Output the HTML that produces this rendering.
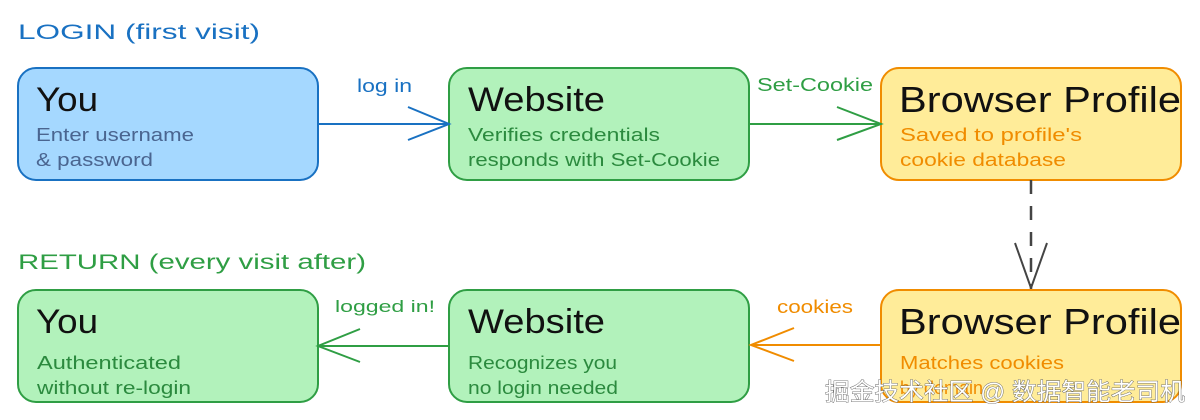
<!DOCTYPE html>
<html><head><meta charset="utf-8"><style>
html,body{margin:0;padding:0;background:#fff;}
svg{display:block;}
text{font-family:"Liberation Sans","Noto Sans CJK SC",sans-serif;}
</style></head><body>
<svg width="1200" height="420" viewBox="0 0 1200 420" xmlns="http://www.w3.org/2000/svg">
<text x="18" y="39" font-size="21" fill="#1971c2" textLength="242" lengthAdjust="spacingAndGlyphs">LOGIN  (first visit)</text>
<text x="18" y="269" font-size="21" fill="#2f9e44" textLength="348" lengthAdjust="spacingAndGlyphs">RETURN  (every visit after)</text>

<rect x="18" y="68" width="300" height="112" rx="18" fill="#a5d8ff" stroke="#1971c2" stroke-width="2"/>
<text x="36" y="111" font-size="34" fill="#111" textLength="62" lengthAdjust="spacingAndGlyphs">You</text>
<text x="36" y="141" font-size="18" fill="#4a6590" textLength="158" lengthAdjust="spacingAndGlyphs">Enter username</text>
<text x="36" y="166" font-size="18" fill="#4a6590" textLength="117" lengthAdjust="spacingAndGlyphs">&amp; password</text>

<rect x="449" y="68" width="300" height="112" rx="18" fill="#b2f2bb" stroke="#2f9e44" stroke-width="2"/>
<text x="468" y="111" font-size="34" fill="#111" textLength="137" lengthAdjust="spacingAndGlyphs">Website</text>
<text x="468" y="141" font-size="18" fill="#2b8a3e" textLength="192" lengthAdjust="spacingAndGlyphs">Verifies credentials</text>
<text x="468" y="166" font-size="18" fill="#2b8a3e" textLength="252" lengthAdjust="spacingAndGlyphs">responds with Set-Cookie</text>

<rect x="881" y="68" width="300" height="112" rx="18" fill="#ffec99" stroke="#f08c00" stroke-width="2"/>
<text x="899" y="112" font-size="36" fill="#111" textLength="282" lengthAdjust="spacingAndGlyphs">Browser Profile</text>
<text x="900" y="141" font-size="18" fill="#f08c00" textLength="182" lengthAdjust="spacingAndGlyphs">Saved to profile's</text>
<text x="900" y="166" font-size="18" fill="#f08c00" textLength="166" lengthAdjust="spacingAndGlyphs">cookie database</text>

<line x1="318" y1="124" x2="449" y2="124" stroke="#1971c2" stroke-width="2"/>
<polyline points="408,107 449,124 408,140" fill="none" stroke="#1971c2" stroke-width="2"/>
<text x="357" y="92" font-size="18" fill="#1971c2" textLength="55" lengthAdjust="spacingAndGlyphs">log in</text>

<line x1="749" y1="124" x2="881" y2="124" stroke="#2f9e44" stroke-width="2"/>
<polyline points="837,107 881,124 837,140" fill="none" stroke="#2f9e44" stroke-width="2"/>
<text x="757" y="91" font-size="18" fill="#2f9e44" textLength="116" lengthAdjust="spacingAndGlyphs">Set-Cookie</text>

<line x1="1031" y1="180" x2="1031" y2="290" stroke="#444" stroke-width="2.5" stroke-dasharray="14,12"/>
<polyline points="1015,243 1031,288 1047,243" fill="none" stroke="#444" stroke-width="2"/>

<rect x="18" y="290" width="300" height="112" rx="18" fill="#b2f2bb" stroke="#2f9e44" stroke-width="2"/>
<text x="36" y="333" font-size="34" fill="#111" textLength="62" lengthAdjust="spacingAndGlyphs">You</text>
<text x="37" y="369" font-size="18" fill="#2b8a3e" textLength="144" lengthAdjust="spacingAndGlyphs">Authenticated</text>
<text x="37" y="394" font-size="18" fill="#2b8a3e" textLength="154" lengthAdjust="spacingAndGlyphs">without re-login</text>

<rect x="449" y="290" width="300" height="112" rx="18" fill="#b2f2bb" stroke="#2f9e44" stroke-width="2"/>
<text x="468" y="333" font-size="34" fill="#111" textLength="137" lengthAdjust="spacingAndGlyphs">Website</text>
<text x="468" y="369" font-size="18" fill="#2b8a3e" textLength="149" lengthAdjust="spacingAndGlyphs">Recognizes you</text>
<text x="468" y="394" font-size="18" fill="#2b8a3e" textLength="150" lengthAdjust="spacingAndGlyphs">no login needed</text>

<rect x="881" y="290" width="300" height="112" rx="18" fill="#ffec99" stroke="#f08c00" stroke-width="2"/>
<text x="899" y="334" font-size="36" fill="#111" textLength="282" lengthAdjust="spacingAndGlyphs">Browser Profile</text>
<text x="900" y="369" font-size="18" fill="#f08c00" textLength="164" lengthAdjust="spacingAndGlyphs">Matches cookies</text>
<text x="900" y="394" font-size="18" fill="#f08c00">by domain</text>

<line x1="449" y1="346" x2="318" y2="346" stroke="#2f9e44" stroke-width="2"/>
<polyline points="360,329 318,346 360,362" fill="none" stroke="#2f9e44" stroke-width="2"/>
<text x="335" y="312" font-size="17" fill="#2f9e44" textLength="100" lengthAdjust="spacingAndGlyphs">logged in!</text>

<line x1="881" y1="345" x2="751" y2="345" stroke="#f08c00" stroke-width="2"/>
<polyline points="794,328 751,345 794,361" fill="none" stroke="#f08c00" stroke-width="2"/>
<text x="777" y="313" font-size="18" fill="#f08c00" textLength="76" lengthAdjust="spacingAndGlyphs">cookies</text>

<text x="825" y="400" font-size="24" fill="#ffffff" stroke="#555" stroke-width="0.8" paint-order="stroke" textLength="360" lengthAdjust="spacingAndGlyphs">掘金技术社区 @ 数据智能老司机</text>
</svg>
</body></html>
